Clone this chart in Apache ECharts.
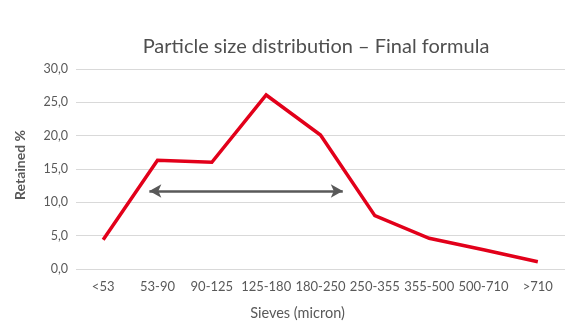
<!DOCTYPE html>
<html>
<head>
<meta charset="utf-8">
<script src="https://cdn.jsdelivr.net/npm/echarts@6/dist/echarts.min.js"></script>
<style>
  html, body { margin: 0; padding: 0; background: #ffffff; }
  #chart { width: 579px; height: 333px; }
</style>
</head>
<body>
<div id="chart"></div>
<script>
// Sieve fractions (micron) and retained percentage per fraction
const sieves = ['<53', '53-90', '90-125', '125-180', '180-250', '250-355', '355-500', '500-710', '>710'];
const retained = [4.4, 16.3, 16.0, 26.1, 20.1, 8.0, 4.6, 2.9, 1.1];

// Y axis range
const yMin = 0;
const yMax = 30;
const yStep = 5;

// Double-headed arrow spanning the main fraction range (category index, %)
const arrowStart = [0.85, 11.7];
const arrowEnd = [4.41, 11.7];

const chart = echarts.init(document.getElementById('chart'), null, { renderer: 'canvas' });
const textColor = '#595959';
const font = 'Lato, "Noto Sans", sans-serif';

chart.setOption({
  animation: false,
  backgroundColor: '#ffffff',
  title: {
    text: 'Particle size distribution \u2013 Final formula',
    left: 311,
    textAlign: 'center',
    top: 32,
    textStyle: { color: '#4f4f4f', fontFamily: font, fontWeight: 'normal', fontSize: 20 }
  },
  grid: { left: 76, right: 14, top: 69, bottom: 64 },
  xAxis: [{
    type: 'category',
    data: sieves,
    boundaryGap: true,
    axisLine: { show: false },
    axisTick: { show: false },
    axisLabel: { color: textColor, fontFamily: font, fontSize: 13, margin: 11, interval: 0 },
    name: 'Sieves (micron)',
    nameLocation: 'middle',
    nameGap: 37,
    nameTextStyle: { color: textColor, fontFamily: font, fontSize: 14.5, padding: [0, 46, 0, 0] }
  }, {
    type: 'value',
    min: -0.5,
    max: sieves.length - 0.5,
    show: false
  }],
  yAxis: {
    type: 'value',
    min: yMin,
    max: yMax,
    interval: yStep,
    axisLine: { show: false },
    axisTick: { show: false },
    splitLine: { lineStyle: { color: '#d9d9d9', width: 1 } },
    axisLabel: {
      color: textColor, fontFamily: font, fontSize: 12.5, margin: 8,
      formatter: v => v.toFixed(1).replace('.', ',')
    },
    name: 'Retained %',
    nameLocation: 'middle',
    nameGap: 49,
    nameRotate: 90,
    nameTextStyle: { color: textColor, fontFamily: font, fontSize: 14, fontWeight: 'bold', padding: [0, 0, 0, 8] }
  },
  series: [{
    type: 'line',
    xAxisIndex: 0,
    data: retained,
    symbol: 'none',
    lineStyle: { color: '#e2001a', width: 3.5, join: 'miter' },
    z: 3
  }, {
    type: 'line',
    xAxisIndex: 1,
    data: [],
    symbol: 'none',
    markLine: {
      silent: true,
      symbol: ['arrow', 'arrow'],
      symbolSize: [10, 12],
      label: { show: false },
      lineStyle: { color: '#595959', width: 2.5, type: 'solid' },
      data: [[{ coord: arrowStart }, { coord: arrowEnd }]]
    },
    z: 4
  }]
});
</script>
</body>
</html>
